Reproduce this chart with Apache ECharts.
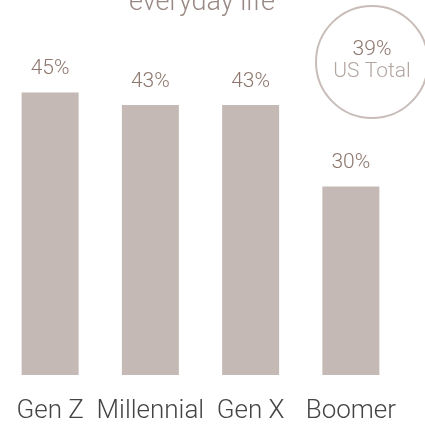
<!doctype html>
<html>
    <head>
        <meta charset="utf-8">
        <title>Everyday life by generation</title>
        <style>
            html, body { margin: 0; padding: 0; background: #fff; }
            #main { width: 425px; height: 424px; }
        </style>
        <script src="https://cdn.jsdelivr.net/npm/echarts@6/dist/echarts.min.js"></script>
    </head>
    <body>
        <div id="main"></div>
        <script>
            var titleText = 'everyday life';
            var generations = ['Gen Z', 'Millennial', 'Gen X', 'Boomer'];
            var shares = [45, 43, 43, 30];
            var usTotal = 39;
            var usTotalLabel = 'US Total';

            var barColor = '#c4b9b4';
            var valueColor = '#8c766d';
            var fontFamily = 'Roboto, "Liberation Sans", sans-serif';

            var chart = echarts.init(document.getElementById('main'), null, {
                devicePixelRatio: 1
            });

            chart.setOption({
                animation: false,
                backgroundColor: '#fff',
                grid: {
                    left: -11,
                    right: 24,
                    top: 61,
                    bottom: 49,
                    containLabel: false
                },
                xAxis: {
                    type: 'category',
                    data: generations,
                    axisLine: { show: false },
                    axisTick: { show: false },
                    axisLabel: {
                        interval: 0,
                        margin: 23,
                        color: '#444',
                        fontSize: 26,
                        fontWeight: 300,
                        fontFamily: fontFamily
                    }
                },
                yAxis: {
                    type: 'value',
                    min: 0,
                    max: 50,
                    show: false,
                    splitLine: { show: false }
                },
                graphic: [
                    {
                        type: 'text',
                        x: 202,
                        y: 17,
                        style: {
                            text: titleText,
                            align: 'center',
                            verticalAlign: 'bottom',
                            fill: '#9a8a85',
                            fontSize: 27,
                            fontWeight: 300,
                            fontFamily: fontFamily
                        }
                    },
                    {
                        type: 'circle',
                        shape: { cx: 372, cy: 62, r: 56 },
                        style: { fill: 'none', stroke: '#c8bdb8', lineWidth: 2 }
                    },
                    {
                        type: 'text',
                        x: 372,
                        y: 50,
                        style: {
                            text: usTotal + '%',
                            align: 'center',
                            verticalAlign: 'middle',
                            fill: valueColor,
                            fontSize: 21,
                            fontWeight: 300,
                            fontFamily: fontFamily
                        }
                    },
                    {
                        type: 'text',
                        x: 372,
                        y: 72,
                        style: {
                            text: usTotalLabel,
                            align: 'center',
                            verticalAlign: 'middle',
                            fill: '#b3a6a1',
                            fontSize: 21,
                            fontWeight: 300,
                            fontFamily: fontFamily
                        }
                    }
                ],
                series: [{
                    type: 'bar',
                    data: shares,
                    barWidth: 57,
                    itemStyle: { color: barColor },
                    label: {
                        show: true,
                        position: 'top',
                        distance: 13,
                        formatter: '{c}%',
                        color: valueColor,
                        fontSize: 21,
                        fontWeight: 300,
                        fontFamily: fontFamily
                    }
                }]
            });

            window.onresize = chart.resize;
        </script>
    </body>
</html>
